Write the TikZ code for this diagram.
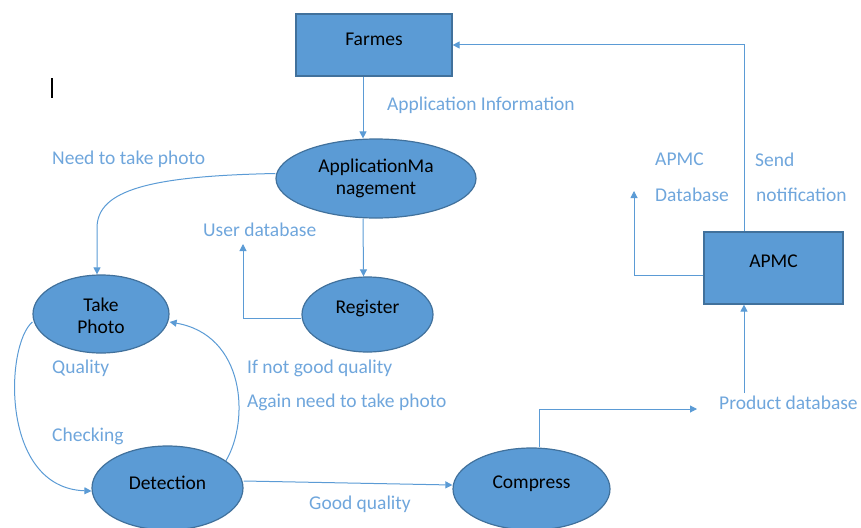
\documentclass[tikz,border=0pt]{standalone}
\usepackage{fontspec}
\setmainfont{Carlito}
\usetikzlibrary{arrows.meta,calc,shapes.geometric}
\definecolor{bfill}{HTML}{5B9BD5}
\definecolor{bdraw}{HTML}{41719C}
\definecolor{lbl}{HTML}{6FA6DC}
\tikzset{
  ent/.style={draw=bdraw, fill=bfill, line width=1.2pt, rectangle, inner sep=0pt},
  proc/.style={draw=bdraw, fill=bfill, line width=1.2pt, ellipse, inner sep=0pt},
  ntext/.style={font=\fontsize{19.5}{22}\selectfont, text=black, align=center},
  lab/.style={font=\fontsize{19.5}{22}\selectfont, text=lbl, anchor=west, inner sep=0pt, yshift=-1.5pt},
  arr/.style={draw=bfill, line width=1pt, -{Triangle[width=7pt,length=7pt]}},
  ln/.style={draw=bfill, line width=1pt}
}
\begin{document}
\begin{tikzpicture}[x=1pt,y=-1pt]
\useasboundingbox (0,0) rectangle (861,527);
% nodes
\node[ent, minimum width=156pt, minimum height=62pt,
  label={[ntext,yshift=6pt]center:Farmes}] (farmes) at (374,45) {};
\node[ent, minimum width=139pt, minimum height=72pt,
  label={[ntext,yshift=7pt]center:APMC}] (apmc) at (773.5,268) {};
\node[proc, minimum width=200pt, minimum height=79pt,
  label={[ntext,yshift=0.5pt]center:ApplicationMa\\nagement}] (appm) at (376,178.5) {};
\node[proc, minimum width=131pt, minimum height=75pt,
  label={[ntext,yshift=6pt]center:Register}] (register) at (367.5,314.5) {};
\node[proc, minimum width=136pt, minimum height=78pt,
  label={[ntext,yshift=-1.5pt]center:Take\\Photo}] (photo) at (101,314) {};
\node[proc, minimum width=151pt, minimum height=84pt,
  label={[ntext,yshift=5pt]center:Detection}] (detect) at (167.5,488) {};
\node[proc, minimum width=157pt, minimum height=82pt,
  label={[ntext,yshift=5pt]center:Compress}] (compress) at (531.5,489) {};
% labels
\node[lab] (l1) at (387,104) {Application Information};
\node[lab] (l2) at (52,158) {Need to take photo};
\node[lab] (l3) at (203,228) {User database};
\node[lab] (l4) at (52,367) {Quality};
\node[lab] (l5) at (52,435) {Checking};
\node[lab] (l6) at (247,367) {If not good quality};
\node[lab] (l7) at (247,401) {Again need to take photo};
\node[lab] (l8) at (309,503) {Good quality};
\node[lab] (l9) at (719,401) {Product database};
\node[lab] (l10) at (655,158) {APMC};
\node[lab] (l11) at (655,193) {Database};
\node[lab] (l12) at (755,158) {Send};
\node[lab] (l13) at (756,193) {notification};
% cursor
\draw[line width=2.5pt, black] (52,78) -- (52,98);
% free-end coordinates
\coordinate (udb) at (243,244);
\coordinate (pdb) at (697,409);
\coordinate (pdbup) at (744,393);
\coordinate (adb) at (634,191);
% connectors
\draw[arr] ([xshift=-11pt]farmes.south) -- ([xshift=-13pt]appm.north);
\draw[arr] ([xshift=-13pt]appm.south) -- ([xshift=-4pt]register.north);
\draw[arr] ([yshift=5pt]appm.west) .. controls (150,176) and (97,190) .. (97,228) -- ([xshift=-4pt]photo.north);
\draw[arr] ([yshift=-4pt]register.west) -| (udb);
\draw[arr] ([yshift=-8pt]photo.west) .. controls (5,345) and (0,488) .. ([yshift=-3pt]detect.west);
\draw[arr] (detect.25) .. controls (250,420) and (245,335) .. ([yshift=-8pt]photo.east);
\draw[arr] ([yshift=7pt]detect.east) -- ([yshift=4pt]compress.west);
\draw[arr] ([xshift=8pt]compress.north) |- (pdb);
\draw[arr] (pdbup) -- (pdbup |- apmc.south);
\draw[arr] ([yshift=-7pt]apmc.west) -| (adb);
\draw[arr] (pdbup |- apmc.north) |- (farmes.east);
\end{tikzpicture}
\end{document}
